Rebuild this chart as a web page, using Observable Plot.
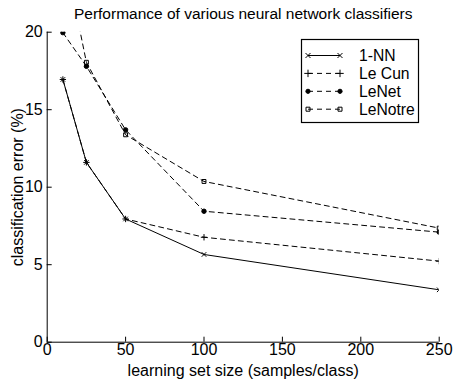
<!DOCTYPE html>
<html>
<head>
<meta charset="utf-8">
<script src="https://cdn.jsdelivr.net/npm/d3@7"></script>
<script src="https://cdn.jsdelivr.net/npm/@observablehq/plot@0.6"></script>
<style>
  html, body { margin: 0; padding: 0; background: #fff; }
  #chart svg { display: block; }
</style>
</head>
<body>
<div id="chart"></div>
<script>
const titleText = "Performance of various neural network classifiers";
const xLabel = "learning set size (samples/class)";
const yLabel = "classification error (%)";

const sizes = [10, 25, 50, 100, 250];
const nn1 = [16.95, 11.6, 7.95, 5.66, 3.38];
const lecun = [16.95, 11.6, 7.95, 6.77, 5.23];
const lenet = [19.97, 17.8, 13.7, 8.45, 7.1];
const lenotre = [25.5, 18.06, 13.38, 10.37, 7.36];

const seriesNames = ["1-NN", "Le Cun", "LeNet", "LeNotre"];
const seriesValues = [nn1, lecun, lenet, lenotre];
const seriesSymbols = ["times", "plus", "circle", "square"];
const seriesFill = ["none", "none", "black", "none"];
const seriesDash = [null, "5,4", "5,4", "5,4"];

const xTicks = [0, 50, 100, 150, 200, 250];
const yTicks = [0, 5, 10, 15, 20];

const data = seriesNames.flatMap((name, i) =>
  sizes.map((s, j) => ({ series: name, x: s, y: seriesValues[i][j] })));

const W = 453, H = 381;
const mL = 46.7, mR = 14.3, mT = 31.7, mB = 39.3;
const font = "'Liberation Sans', Arial, Helvetica, sans-serif";
const fs = 16;

const marks = [];
seriesNames.forEach((name, i) => {
  const d = data.filter(r => r.series === name);
  marks.push(Plot.line(d, { x: "x", y: "y", stroke: "black", strokeWidth: 1, strokeDasharray: seriesDash[i], clip: true }));
  marks.push(Plot.dot(d, { x: "x", y: "y", symbol: () => seriesSymbols[i], r: 2.2, stroke: "black", strokeWidth: 1, fill: seriesFill[i], clip: true }));
});

const plot = Plot.plot({
  width: W, height: H,
  marginLeft: mL, marginRight: mR, marginTop: mT, marginBottom: mB,
  style: { fontFamily: font, fontSize: fs + "px", background: "white", color: "black" },
  x: { domain: [0, 250] },
  y: { domain: [0, 20] },
  marks: [
    Plot.ruleX([0], { stroke: "black", strokeWidth: 1 }),
    Plot.ruleY([0], { stroke: "black", strokeWidth: 1 }),
    Plot.tickX(xTicks, { x: d => d, insetTop: H - mT - mB - 5, stroke: "black", strokeWidth: 1 }),
    Plot.tickY(yTicks, { y: d => d, insetRight: W - mL - mR - 5, stroke: "black", strokeWidth: 1 }),
    Plot.axisX(xTicks, { tickSize: 0, tickPadding: 1, fontSize: fs, label: null }),
    Plot.axisY(yTicks, { tickSize: 0, tickPadding: 4.5, fontSize: fs, label: null }),
    Plot.text([xLabel], { frameAnchor: "bottom", lineAnchor: "middle", textAnchor: "middle", dy: 28.5, fontSize: fs, fill: "black" }),
    Plot.text([yLabel], { frameAnchor: "left", lineAnchor: "middle", textAnchor: "middle", dx: -29, rotate: -90, fontSize: fs, fill: "black" }),
    Plot.text([titleText], { frameAnchor: "top", lineAnchor: "middle", textAnchor: "middle", dy: -18.5, fontSize: 15.5, fill: "black" }),
    ...marks
  ]
});

// Legend box
const svg = d3.select(plot);
const lg = svg.append("g").attr("font-family", font).attr("font-size", 15.7).attr("text-anchor", "start");
lg.append("rect").attr("x", 301.5).attr("y", 39.5).attr("width", 117).attr("height", 83)
  .attr("fill", "white").attr("stroke", "black").attr("stroke-width", 1.2);
const symMap = { times: d3.symbolTimes, plus: d3.symbolPlus, circle: d3.symbolCircle, square: d3.symbolSquare };
const sizeMap = { times: 18, plus: 20, circle: 14, square: 16 };
seriesNames.forEach((name, i) => {
  const y = 55.5 + i * 17.9;
  lg.append("line").attr("x1", 308).attr("x2", 340).attr("y1", y).attr("y2", y)
    .attr("stroke", "black").attr("stroke-width", 1).attr("stroke-dasharray", seriesDash[i]);
  [308, 340].forEach(x => {
    lg.append("path").attr("d", d3.symbol(symMap[seriesSymbols[i]], sizeMap[seriesSymbols[i]])())
      .attr("transform", `translate(${x},${y})`)
      .attr("fill", seriesFill[i]).attr("stroke", "black").attr("stroke-width", 1);
  });
  lg.append("text").attr("x", 359).attr("y", y).attr("dy", "0.35em").attr("fill", "black").text(name);
});

document.getElementById("chart").appendChild(plot);
</script>
</body>
</html>
